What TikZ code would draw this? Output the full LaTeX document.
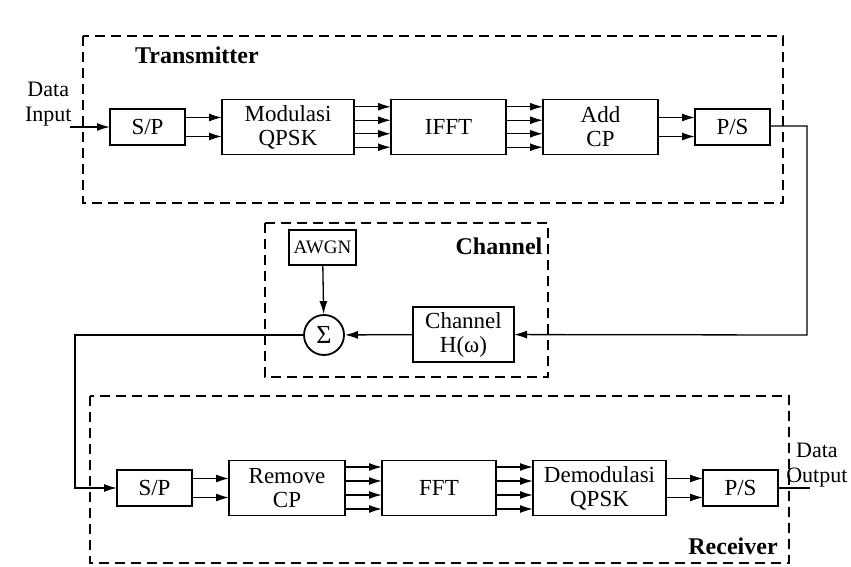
\documentclass[tikz,border=0pt]{standalone}
\usepackage{fontspec}
\setmainfont{Liberation Serif}
\usetikzlibrary{arrows.meta}
\usetikzlibrary{positioning}

\begin{document}
\begin{tikzpicture}[x=1pt, y=-1pt, >={Latex[length=13pt,width=8pt]}, node distance=37pt and 37pt]
		\tikzset{
			box/.style={draw=black, line width=1.8pt, inner sep=2pt, outer sep=0pt, align=center, minimum height=55pt, font=\fontsize{23}{24}\selectfont},
			sbox/.style={box, minimum width=75pt, minimum height=36pt},
			arr/.style={->, line width=1.3pt},
			zone/.style={draw=black, line width=2pt, dash pattern=on 10pt off 6pt},
			tag/.style={font=\bfseries\fontsize{24}{26}\selectfont},
			lbl/.style={align=center, font=\fontsize{22}{25}\selectfont},
		}
		\useasboundingbox (0,0) rectangle (851,567);
		
		% dashed blocks
		\draw[zone] (83,36) rectangle (783,203);
		\draw[zone] (265,223) rectangle (548,377);
		\draw[zone] (90,396) rectangle (789,563);
		\node[tag] (Ttx) at (197,55) {Transmitter};
		\node[tag] (Tch) at (499,246) {Channel};
		\node[tag] (Trx) at (733,546) {Receiver};
		
		% transmitter
		\node[sbox] (SPt) at (147.5,127) {S/P};
		\node[box, minimum width=132pt, right=of SPt] (Mod) {Modulasi\\QPSK};
		\node[box, minimum width=115pt, right=of Mod] (IFFT) {IFFT};
		\node[box, minimum width=115pt, right=of IFFT] (Add) {Add\\CP};
		\node[sbox, right=of Add] (PSt) {P/S};
		
		\node[lbl, anchor=east] (Din) at (75,104) {Data\\Input};
		\coordinate (in) at (70,127);
		\draw[arr] (in) -- (SPt);
		\foreach \d in {9.5,-9.5}
			\draw[arr] ([yshift=\d pt]SPt.east) -- ([yshift=\d pt]Mod.west);
		\foreach \d in {20.25,6.75,-6.75,-20.25}
			\draw[arr] ([yshift=\d pt]Mod.east) -- ([yshift=\d pt]IFFT.west);
		\foreach \d in {20.25,6.75,-6.75,-20.25}
			\draw[arr] ([yshift=\d pt]IFFT.east) -- ([yshift=\d pt]Add.west);
		\foreach \d in {9.5,-9.5}
			\draw[arr] ([yshift=\d pt]Add.east) -- ([yshift=\d pt]PSt.west);
		
		% channel
		\node[box, minimum width=101pt] (Hw) at (463.5,334.5) {Channel\\H(ω)};
		\node[box, minimum width=67pt, minimum height=35pt, font=\fontsize{19}{20}\selectfont] (AWGN) at (322.5,247.5) {AWGN};
		\node[draw=black, line width=1.8pt, circle, minimum size=40pt, inner sep=0pt, font=\fontsize{26}{28}\selectfont] (Sum) at (324,335) {Σ};
		\coordinate (up) at (807,126);
		\coordinate (dn) at (807,335);
		\draw[arr] (PSt.east |- up) -- (up) -- (dn) -- (Hw);
		\draw[arr] (AWGN) -- (Sum);
		\draw[arr] (Hw) -- (Sum);
		
		% receiver
		\node[sbox] (SPr) at (154.5,488) {S/P};
		\node[box, minimum width=116pt, right=of SPr] (Rem) {Remove\\CP};
		\node[box, minimum width=114pt, right=of Rem] (FFT) {FFT};
		\node[box, minimum width=133pt, right=of FFT] (Dem) {Demodulasi\\QPSK};
		\node[sbox, right=of Dem] (PSr) {P/S};
		
		\coordinate (lt) at (75,335);
		\coordinate (lb) at (75,488);
		\draw[arr] (Sum) -- (lt) -- (lb) -- (SPr);
		\foreach \d in {9.5,-9.5}
			\draw[arr] ([yshift=\d pt]SPr.east) -- ([yshift=\d pt]Rem.west);
		\foreach \d in {21,7,-7,-21}
			\draw[arr] ([yshift=\d pt]Rem.east) -- ([yshift=\d pt]FFT.west);
		\foreach \d in {21,7,-7,-21}
			\draw[arr] ([yshift=\d pt]FFT.east) -- ([yshift=\d pt]Dem.west);
		\foreach \d in {9.5,-9.5}
			\draw[arr] ([yshift=\d pt]Dem.east) -- ([yshift=\d pt]PSr.west);
		
		\node[lbl, anchor=east] (Dout) at (851,465) {Data\\Output};
		\coordinate (out) at (810,488);
		\draw[line width=1.3pt] (PSr) -- (out);
	\end{tikzpicture}
\end{document}
